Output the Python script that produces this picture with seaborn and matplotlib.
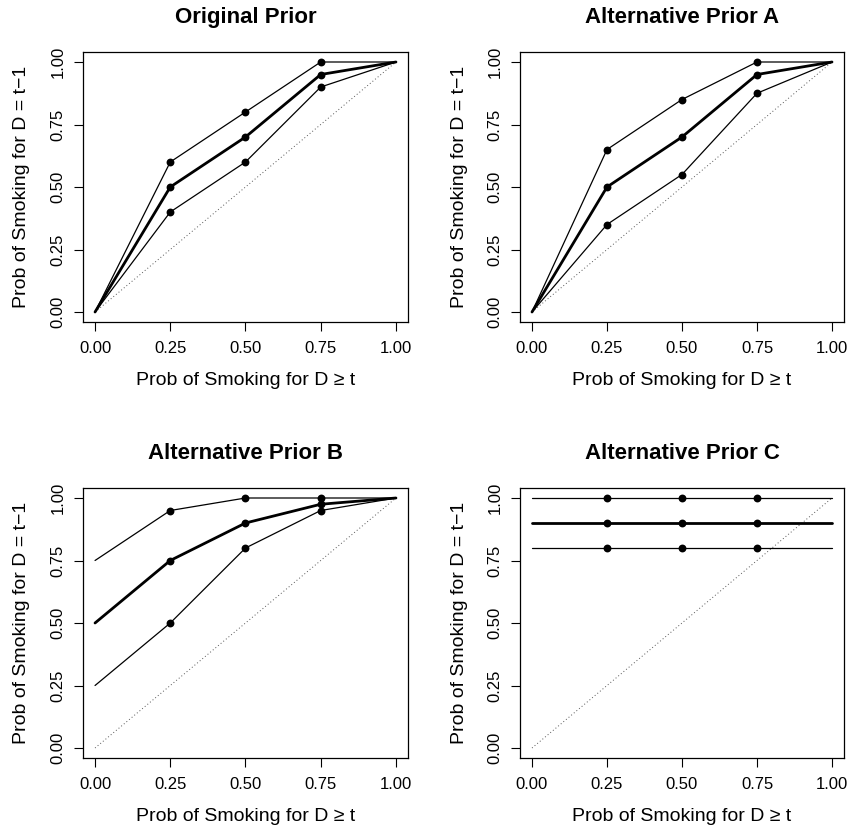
import matplotlib
matplotlib.use('Agg')
import matplotlib.pyplot as plt
import seaborn as sns
import pandas as pd

# shared x grid (prob of smoking for D >= t)
x_vals = [0, 0.25, 0.5, 0.75, 1.0]
pt_idx = [1, 2, 3]  # points are only drawn at the inner positions

titles = ['Original Prior', 'Alternative Prior A', 'Alternative Prior B', 'Alternative Prior C']

orig_upper = [0, 0.60, 0.80, 1.00, 1.0]
orig_mid = [0, 0.50, 0.70, 0.95, 1.0]
orig_lower = [0, 0.40, 0.60, 0.90, 1.0]

a_upper = [0, 0.65, 0.85, 1.00, 1.0]
a_mid = [0, 0.50, 0.70, 0.95, 1.0]
a_lower = [0, 0.35, 0.55, 0.875, 1.0]

b_upper = [0.75, 0.95, 1.00, 1.00, 1.0]
b_mid = [0.50, 0.75, 0.90, 0.975, 1.0]
b_lower = [0.25, 0.50, 0.80, 0.95, 1.0]

c_upper = [1.0, 1.0, 1.0, 1.0, 1.0]
c_mid = [0.9, 0.9, 0.9, 0.9, 0.9]
c_lower = [0.8, 0.8, 0.8, 0.8, 0.8]

panels = [
    (orig_upper, orig_mid, orig_lower),
    (a_upper, a_mid, a_lower),
    (b_upper, b_mid, b_lower),
    (c_upper, c_mid, c_lower),
]

sns.set_style('ticks', {'axes.edgecolor': 'black', 'text.color': 'black',
                        'axes.labelcolor': 'black', 'xtick.color': 'black',
                        'ytick.color': 'black'})
plt.rcParams['font.family'] = ['Liberation Sans', 'DejaVu Sans']

fig = plt.figure(figsize=(8.51, 8.31), dpi=100)
W, H = 851, 831
# axes boxes in pixels: (left, top, right, bottom)
boxes = [(83, 52, 408, 322), (520, 52, 844, 322),
         (83, 488, 408, 758), (520, 488, 844, 758)]

ticks = [0, 0.25, 0.5, 0.75, 1.0]
tick_labels = ['0.00', '0.25', '0.50', '0.75', '1.00']

for i, (box, lines) in enumerate(zip(boxes, panels)):
    l, t, r, b = box
    ax = fig.add_axes([l / W, 1 - b / H, (r - l) / W, (b - t) / H])
    # dotted identity line
    sns.lineplot(x=x_vals, y=x_vals, ax=ax, color='#555555', lw=0.7,
                 linestyle=(0, (1, 2.5)), estimator=None)
    for j, yv in enumerate(lines):
        lw = 2.0 if j == 1 else 0.9
        df = pd.DataFrame({'x': x_vals, 'y': yv})
        sns.lineplot(data=df, x='x', y='y', ax=ax, color='black', lw=lw,
                     estimator=None, sort=False)
        sns.scatterplot(data=df.iloc[pt_idx], x='x', y='y', ax=ax,
                        color='black', s=32, edgecolor='black', linewidth=0,
                        zorder=5)
    ax.set_xlim(-0.04, 1.04)
    ax.set_ylim(-0.04, 1.04)
    ax.set_xticks(ticks)
    ax.set_xticklabels(tick_labels)
    ax.set_yticks(ticks)
    ax.set_yticklabels(tick_labels, rotation=90, va='center')
    ax.tick_params(direction='out', length=6.5, width=0.8, labelsize=12)
    ax.tick_params(axis='x', pad=7)
    ax.tick_params(axis='y', pad=6)
    for s in ax.spines.values():
        s.set_visible(True)
        s.set_linewidth(0.9)
    ax.set_xlabel('Prob of Smoking for D \u2265 t', fontsize=14, labelpad=11.5)
    ax.set_ylabel('Prob of Smoking for D = t\u22121', fontsize=14, labelpad=14.5)
    ax.set_title(titles[i], fontsize=16, fontweight='bold', pad=21)

fig.savefig('out.png', dpi=100, facecolor='white')
